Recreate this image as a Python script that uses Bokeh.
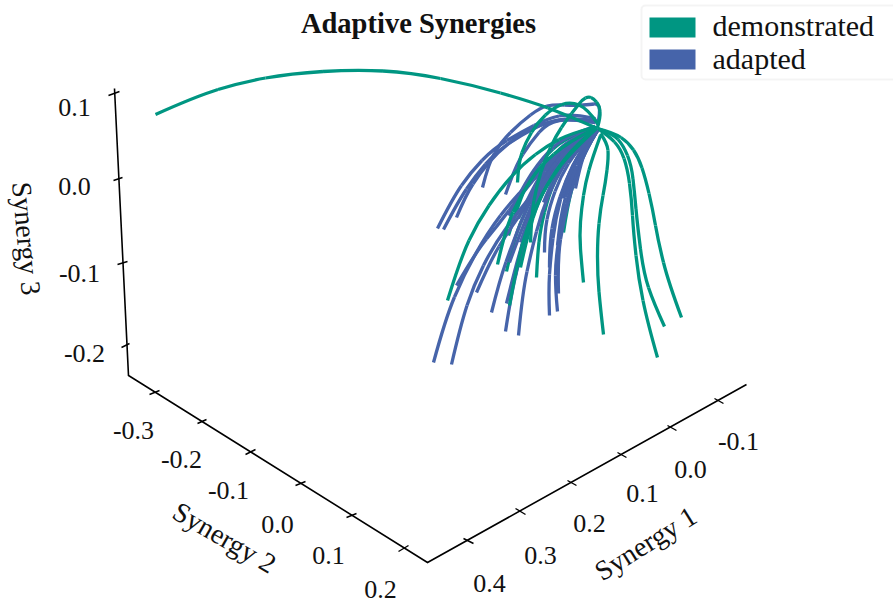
from bokeh.plotting import figure
from bokeh.models import Range1d, BoxAnnotation
from bokeh.core.properties import value
from bokeh.embed import file_html
from bokeh.resources import INLINE

TITLE = "Adaptive Synergies"
SERIES_NAMES = ["demonstrated", "adapted"]
TEAL = "#009682"
BLUE = "#4664AA"
FONT = "Liberation Serif"

# Trajectories (x, y)
demonstrated_under = [
    [(597,128),(613,132),(628,142),(638,157),(645,178),(652,208),(658,242),(668,282),(681,317)],
    [(597,128),(612,133),(623,145),(631,165),(634,192),(637,225),(643,272),(653,302),(664,326)],
    [(597,128),(608,135),(620,148),(627,168),(631,198),(633,232),(638,278),(647,322),(657,357)],
    [(600,133),(607,143),(608,157),(605,182),(600,208),(597,238),(597,275),(600,308),(603,334)],
    [(600,135),(592,157),(585,182),(581,208),(579,235),(581,262),(583,282)],
    [(597,130),(585,150),(575,175),(567,205),(563,232)],
]
adapted_a = [
    [(595,118),(570,113),(547,118),(520,132),(493,148),(470,172),(452,198),(437,228)],
    [(596,120),(570,117),(545,122),(520,135),(495,152),(475,175),(457,202),(443,229)],
    [(595,122),(570,118),(545,122),(522,132),(497,152),(480,172),(465,195),(456,217)],
    [(597,125),(600,110),(597,103),(590,104),(575,105),(553,104),(540,107),(520,122),(500,142),(488,163),(482,187)],
    [(595,122),(570,118),(547,122),(530,142),(515,165),(505,194)],
    [(596,130),(580,150),(565,180),(555,218),(550,258),(548,290),(549,315)],
    [(597,130),(583,153),(571,185),(561,222),(555,260),(555,290),(557,311)],
    [(596,129),(576,150),(560,176),(549,206),(544,232),(544,252)],
    [(597,130),(580,150),(565,180),(554,213),(549,243),(549,267)],
    [(597,130),(584,152),(573,182),(563,220),(557,258),(558,293)],
    [(597,130),(586,147),(579,168),(575,188)],
    [(597,130),(582,146),(571,170),(563,198)],
    [(597,130),(583,150),(570,180),(560,214),(557,245)],
    [(596,128),(575,143),(560,163),(550,185),(543,202)],
]
demonstrated_mid = [
    [(595,128),(577,145),(560,168),(548,195),(540,228),(537,255),(536,277)],
    [(595,128),(570,145),(545,172),(527,205),(513,240),(506,271)],
    [(595,126),(565,137),(540,160),(522,190),(508,235)],
]
adapted_b = [
    [(593,128),(567,145),(540,172),(513,198),(487,232),(463,275),(445,318),(433,362)],
    [(594,130),(570,148),(547,175),(520,208),(493,245),(473,285),(460,325),(451,364)],
    [(594,128),(570,142),(545,165),(520,195),(497,225),(475,252),(456,285)],
    [(594,130),(572,148),(550,172),(528,202),(507,232),(490,260),(476,292)],
    [(595,128),(568,146),(545,172),(527,205),(512,243),(499,280),(491,312)],
    [(595,128),(570,148),(549,178),(532,215),(519,258),(510,298),(505,331)],
    [(596,128),(574,148),(555,178),(541,212),(531,250),(522,292),(518,335)],
    [(595,128),(567,150),(546,182),(530,218),(517,258),(506,303)],
    [(595,127),(568,145),(549,170),(533,205),(522,240),(515,275)],
    [(594,127),(566,140),(547,163),(531,190),(518,218)],
    [(594,126),(564,136),(542,157),(523,185),(508,215)],
    [(595,127),(570,140),(551,160),(538,182),(530,202)],
    [(595,127),(566,146),(546,176),(531,210),(520,242)],
    [(595,128),(566,148),(545,176),(526,215),(509,262)],
]
demonstrated_over = [
    [(594,128),(567,142),(540,165),(520,195),(505,228),(497,264)],
    [(595,128),(575,145),(555,170),(538,200),(527,235),(520,267)],
    [(596,128),(572,150),(550,178),(532,212),(518,255),(509,305)],
    [(593,127),(570,133),(547,145),(523,163),(500,188),(477,222),(460,258),(447,300)],
    [(155,114),(195,96),(240,82),(290,73),(355,69),(410,72),(470,84),(530,101),(565,114),(597,128)],
    [(597,127),(600,117),(599,105),(593,98),(588,96),(582,99),(575,108),(567,118),(555,136),(545,158),(536,185),(531,215),(530,242)],
    [(597,123),(587,108),(570,101),(553,107),(537,122),(525,142),(518,162),(517,182)],
]

# Box axes: corner points and tick marks in the picture plane
axis_path = [(114,88),(128,375),(427,562),(746,384)]
z_ticks = [((108,95),(119,91)),((113,180),(122,177)),((117,264),(127,261)),((121,347),(129,343))]
y_ticks = [((149,394),(159,390)),((197,423),(206,419)),((245,454),(255,449)),((295,485),(305,481)),((346,517),(356,513)),((398,551),(408,545))]
x_ticks = [((463,538),(473,543)),((515,508),(525,514)),((567,480),(576,485)),((617,452),(626,457)),((667,425),(676,430)),((714,398),(723,403))]

z_labels = ["0.1","0.0","-0.1","-0.2"]
z_label_pos = [(74,107),(74,186),(79,273),(84,353)]
y_labels = ["-0.3","-0.2","-0.1","0.0","0.1","0.2"]
y_label_pos = [(133,430),(181,459),(228,490),(277,524),(328,555),(380,589)]
x_labels = ["-0.1","0.0","0.1","0.2","0.3","0.4"]
x_label_pos = [(738,441),(690,469),(642,493),(589,523),(540,555),(489,583)]
axis_titles = ["Synergy 1","Synergy 2","Synergy 3"]
axis_title_pos = [(645,543),(224,537),(26,238)]
axis_title_angles = [32,-30,-85]

p = figure(width=893, height=604, output_backend="svg", toolbar_location=None,
           x_range=Range1d(0,893), y_range=Range1d(604,0),
           x_axis_location=None, y_axis_location=None, min_border=0)
p.grid.visible = False
p.outline_line_color = None

def xs(curves): return [[pt[0] for pt in c] for c in curves]
def ys(curves): return [[pt[1] for pt in c] for c in curves]

def draw_curves(curves, col):
    # each read point acts as the control of a quadratic piece, so the strokes stay smooth
    x0, y0, x1, y1, cx, cy = [], [], [], [], [], []
    for c in curves:
        n = len(c)
        for i in range(1, n-1):
            a = c[0] if i == 1 else ((c[i-1][0]+c[i][0])/2, (c[i-1][1]+c[i][1])/2)
            b = c[-1] if i == n-2 else ((c[i][0]+c[i+1][0])/2, (c[i][1]+c[i+1][1])/2)
            x0.append(a[0]); y0.append(a[1]); x1.append(b[0]); y1.append(b[1])
            cx.append(c[i][0]); cy.append(c[i][1])
    p.quadratic(x0=x0, y0=y0, x1=x1, y1=y1, cx=cx, cy=cy, line_color=col, line_width=3.3)

p.line([a[0] for a in axis_path],[a[1] for a in axis_path],line_color="black",line_width=1.6,line_join="miter")
for t in (x_ticks,y_ticks,z_ticks):
    p.multi_line(xs(t),ys(t),line_color="black",line_width=1.4)

for curves,col in ((demonstrated_under,TEAL),(adapted_a,BLUE),(demonstrated_mid,TEAL),(adapted_b,BLUE),(demonstrated_over,TEAL)):
    draw_curves(curves,col)

tick_lab = z_labels+y_labels+x_labels
tick_pos = z_label_pos+y_label_pos+x_label_pos
p.text([a[0] for a in tick_pos],[a[1] for a in tick_pos],text=tick_lab,text_font=value(FONT),
       text_font_size="26px",text_color="#111111",text_align="center",text_baseline="middle")
p.text([a[0] for a in axis_title_pos],[a[1] for a in axis_title_pos],text=axis_titles,angle=axis_title_angles,angle_units="deg",
       text_font=value(FONT),text_font_size="28px",text_color="#111111",text_align="center",text_baseline="middle")
p.text([418],[23],text=[TITLE],text_font=value(FONT),text_font_style="bold",text_font_size="28.5px",
       text_color="#111111",text_align="center",text_baseline="middle")

p.add_layout(BoxAnnotation(left=641,right=900,top=5,bottom=79,fill_alpha=0,
                           line_color="#d9d9d9",line_width=2,border_radius=4))
p.quad(left=[649,649],right=[695,695],top=[17,49],bottom=[37,69],fill_color=[TEAL,BLUE],line_color=None)
p.text([712,712],[25,58],text=SERIES_NAMES,text_font=value(FONT),text_font_size="30px",
       text_color="#111111",text_align="left",text_baseline="middle")

open("out.html","w").write(file_html(p,INLINE))
